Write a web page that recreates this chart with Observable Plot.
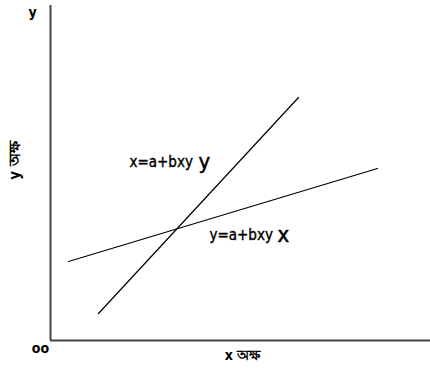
<!DOCTYPE html>
<html>
<head>
<meta charset="utf-8">
<script src="https://cdn.jsdelivr.net/npm/d3@7"></script>
<script src="https://cdn.jsdelivr.net/npm/@observablehq/plot@0.6"></script>
<style>
  html, body { margin: 0; padding: 0; background: #fff; }
  #chart { width: 430px; height: 374px; overflow: hidden; }
</style>
</head>
<body>
<div id="chart"></div>
<script>
// Regression line x on y (steep) and y on x (shallow), in chart units
const lineXonY = [{x: 48, y: 27}, {x: 248, y: 243}];
const lineYonX = [{x: 18, y: 79}, {x: 327, y: 172}];

// Equation labels: small part and large variable
const eqSmall = [
  {x: 79, y: 178, text: "x=a+bxy"},
  {x: 159, y: 105, text: "y=a+bxy"}
];
const eqLarge = [
  {x: 148, y: 179, text: "y"},
  {x: 227, y: 106, text: "x"}
];

// Axis labels
const axisLabels = [
  {x: -18, y: 328, text: "y"},
  {x: -10, y: -8, text: "oo"},
  {x: 192, y: -15, text: "x অক্ষ"}
];
const yAxisTitle = [{x: -35, y: 180, text: "y অক্ষ"}];

const xDomain = [0, 380];
const yDomain = [0, 335];

const chart = Plot.plot({
  width: 430,
  height: 374,
  marginLeft: 50,
  marginRight: 0,
  marginTop: 5,
  marginBottom: 34,
  x: {domain: xDomain, axis: null},
  y: {domain: yDomain, axis: null},
  style: {fontFamily: "DejaVu Sans Condensed, DejaVu Sans, sans-serif", background: "#fff"},
  marks: [
    Plot.ruleX([xDomain[0]], {y1: yDomain[0], y2: yDomain[1], stroke: "#444", strokeWidth: 2}),
    Plot.ruleY([yDomain[0]], {x1: xDomain[0], x2: xDomain[1], stroke: "#444", strokeWidth: 2}),
    Plot.line(lineXonY, {x: "x", y: "y", stroke: "#000", strokeWidth: 1.2}),
    Plot.line(lineYonX, {x: "x", y: "y", stroke: "#000", strokeWidth: 1.2}),
    Plot.text(eqSmall, {x: "x", y: "y", text: "text", textAnchor: "start", fontSize: 15, fill: "#000", stroke: "#000", strokeWidth: 0.4}),
    Plot.text(eqLarge, {x: "x", y: "y", text: "text", textAnchor: "start", fontSize: 22, fill: "#000", stroke: "#000", strokeWidth: 0.5}),
    Plot.text(axisLabels, {x: "x", y: "y", text: "text", fontSize: 14, fontWeight: "bold", fill: "#000"}),
    Plot.text(yAxisTitle, {x: "x", y: "y", text: "text", rotate: -90, fontSize: 15, fontWeight: "bold", fill: "#000"})
  ]
});
document.getElementById("chart").appendChild(chart);
</script>
</body>
</html>
